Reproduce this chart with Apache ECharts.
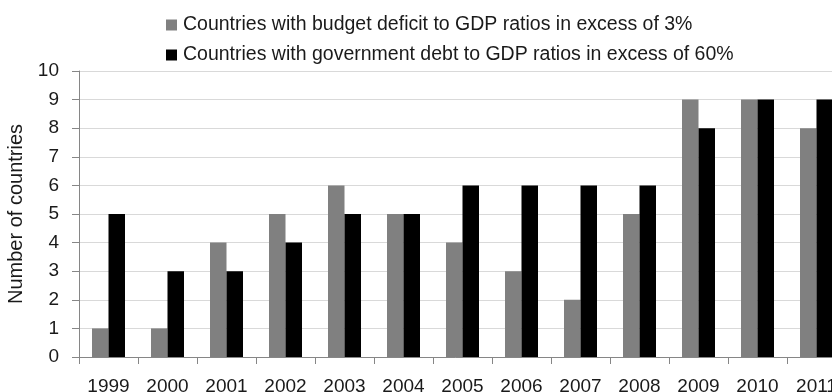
<!DOCTYPE html>
<html><head><meta charset="utf-8">
<script src="https://cdn.jsdelivr.net/npm/echarts@6/dist/echarts.min.js"></script>
<style>html,body{margin:0;padding:0;background:#fff}#c{width:832px;height:392px}</style>
</head><body><div id="c"></div>
<script>
const categories = ['1999','2000','2001','2002','2003','2004','2005','2006','2007','2008','2009','2010','2011'];
const deficitSeries = [1,1,4,5,6,5,4,3,2,5,9,9,8];
const debtSeries = [5,3,3,4,5,5,6,6,6,6,8,9,9];
const seriesNames = ['Countries with budget deficit to GDP ratios in excess of 3%','Countries with government debt to GDP ratios in excess of 60%'];
const yTicks = {min:0,max:10,interval:1};
const font = 'Liberation Sans';
const chart = echarts.init(document.getElementById('c'), null, {renderer:'canvas'});
chart.setOption({
  animation:false,
  backgroundColor:'#fff',
  legend:{orient:'vertical',left:161,top:10,itemGap:10,itemWidth:11,itemHeight:11,icon:'rect',
    textStyle:{fontFamily:font,fontSize:19.5,lineHeight:20,color:'#1a1a1a',padding:[0,0,0,1]},
    data:seriesNames},
  grid:{left:79,right:-14,top:71,bottom:35,containLabel:false,outerBoundsMode:'none'},
  xAxis:{type:'category',data:categories,
    axisLine:{lineStyle:{color:'#868686',width:1}},
    axisTick:{show:true,alignWithLabel:false,length:7,lineStyle:{color:'#868686'}},
    axisLabel:{fontFamily:font,fontSize:19,color:'#1a1a1a',margin:20}},
  yAxis:{type:'value',min:yTicks.min,max:yTicks.max,interval:yTicks.interval,
    name:'Number of countries',nameLocation:'middle',nameGap:52,nameRotate:90,
    nameTextStyle:{fontFamily:font,fontSize:20,color:'#1a1a1a'},
    axisLine:{show:true,lineStyle:{color:'#868686'}},
    axisTick:{show:true,length:7,lineStyle:{color:'#868686'}},
    splitLine:{lineStyle:{color:'#d9d9d9',width:1}},
    axisLabel:{fontFamily:font,fontSize:19,color:'#1a1a1a',margin:20}},
  series:[
    {name:seriesNames[0],type:'bar',data:deficitSeries,itemStyle:{color:'#808080'},barWidth:16.5,barGap:'0%'},
    {name:seriesNames[1],type:'bar',data:debtSeries,itemStyle:{color:'#000000'},barWidth:16.5,barGap:'0%'}
  ]
});
</script></body></html>
